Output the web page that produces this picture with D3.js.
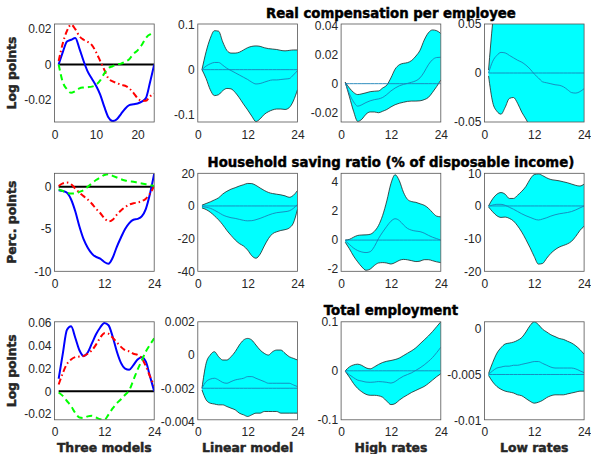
<!DOCTYPE html>
<html>
<head>
<meta charset="utf-8">
<script src="https://cdn.jsdelivr.net/npm/d3@7"></script>
<style>
  body { margin: 0; background: #fff; }
  text { font-family: "Liberation Sans", Arial, sans-serif; }
</style>
</head>
<body>
<svg id="fig" width="591" height="454"></svg>
<script>
// horizon (quarters after the shock)
var horizon = [1,2,3,4,5,6,7,8,9,10,11,12,13,14,15,16,17,18,19,20,21,22,23,24];

var rowTitles = ["Real compensation per employee", "Household saving ratio (% of disposable income)", "Total employment"];
var rowUnits = ["Log points", "Perc. points", "Log points"];
var colNames = ["Three models", "Linear model", "High rates", "Low rates"];

// ---- row 1: real compensation per employee ----
var wageModelA = [0,0.007,0.013,0.014,0.015,0.009,0.002,-0.004,-0.008,-0.012,-0.017,-0.024,-0.030,-0.032,-0.031,-0.028,-0.025,-0.023,-0.0225,-0.022,-0.021,-0.019,-0.010,0];
var wageModelB = [0.002,0.012,0.019,0.0225,0.020,0.016,0.014,0.0128,0.011,0.007,0.002,-0.003,-0.008,-0.0095,-0.0105,-0.0115,-0.012,-0.0135,-0.016,-0.019,-0.0205,-0.0205,-0.018,-0.0165];
var wageModelC = [0,-0.010,-0.014,-0.016,-0.015,-0.0135,-0.013,-0.0128,-0.0125,-0.0115,-0.009,-0.005,-0.002,-0.001,0,0.0005,0.0015,0.003,0.006,0.008,0.011,0.015,0.017,0.0175];
var wageLinLo  = [0,-0.02,-0.045,-0.058,-0.056,-0.047,-0.042,-0.043,-0.051,-0.063,-0.077,-0.09,-0.104,-0.116,-0.11,-0.1,-0.094,-0.09,-0.088,-0.088,-0.089,-0.085,-0.07,-0.045];
var wageLinMid = [0,0.008,0.013,0.016,0.016,0.01,0.003,-0.002,-0.007,-0.012,-0.017,-0.022,-0.028,-0.032,-0.031,-0.028,-0.025,-0.023,-0.023,-0.022,-0.021,-0.02,-0.012,-0.002];
var wageLinHi  = [0,0.04,0.07,0.087,0.086,0.062,0.043,0.037,0.037,0.039,0.044,0.049,0.052,0.053,0.052,0.049,0.047,0.046,0.045,0.043,0.042,0.043,0.044,0.044];
var wageHighLo  = [0.001,-0.009,-0.019,-0.026,-0.0245,-0.021,-0.0195,-0.0195,-0.02,-0.019,-0.0178,-0.016,-0.0145,-0.0135,-0.0128,-0.0122,-0.012,-0.012,-0.0118,-0.011,-0.0095,-0.006,-0.002,0.0025];
var wageHighMid = [0.0005,-0.007,-0.0125,-0.0155,-0.0145,-0.013,-0.0118,-0.011,-0.0105,-0.0095,-0.0075,-0.005,-0.003,-0.0015,-0.0005,0.0002,0.001,0.002,0.004,0.008,0.013,0.0165,0.018,0.0182];
var wageHighHi  = [0.001,-0.003,-0.006,-0.0075,-0.007,-0.0063,-0.0055,-0.0052,-0.005,-0.003,-0.001,0.004,0.010,0.013,0.014,0.0145,0.016,0.019,0.023,0.030,0.035,0.037,0.0365,0.0345];
var wageLowLo  = [-0.003,-0.03,-0.039,-0.042,-0.035,-0.026,-0.025,-0.031,-0.04,-0.047,-0.055,-0.062,-0.068,-0.072,-0.074,-0.075,-0.076,-0.078,-0.08,-0.082,-0.083,-0.083,-0.082,-0.08];
var wageLowMid = [0,0.012,0.018,0.021,0.0205,0.018,0.0155,0.013,0.011,0.008,0.004,-0.001,-0.005,-0.009,-0.010,-0.011,-0.012,-0.0125,-0.014,-0.017,-0.020,-0.0205,-0.019,-0.016];
var wageLowHi  = [0.003,0.052,0.09,0.11,0.12,0.118,0.114,0.11,0.106,0.102,0.099,0.097,0.096,0.095,0.094,0.093,0.092,0.091,0.09,0.089,0.088,0.087,0.086,0.085];

// ---- row 2: household saving ratio ----
var saveModelA = [-0.4,-0.5,-0.7,-1.5,-2.9,-4.7,-6.2,-7.2,-7.9,-8.3,-8.5,-8.9,-9.1,-8.4,-7.1,-6.0,-5.0,-4.3,-3.9,-3.8,-3.5,-2.6,-0.8,1.55];
var saveModelB = [0.1,0.4,0.5,0.3,-0.2,-0.7,-1.1,-1.5,-2.0,-2.6,-3.1,-3.7,-4.1,-3.9,-3.3,-2.8,-2.4,-2.1,-1.95,-1.85,-1.7,-1.4,-0.8,0.1];
var saveModelC = [-0.3,-0.5,-0.7,-0.8,-0.8,-0.6,-0.4,0,0.4,0.8,1.1,1.4,1.5,1.3,1.1,0.9,0.75,0.65,0.6,0.5,0.4,0.3,0.2,0.1];
var saveLinLo  = [-1.2,-2.2,-3.8,-6,-8.5,-11.5,-15,-18,-20.8,-23,-24.5,-27,-30.5,-32,-29.5,-24.5,-20,-17,-15.8,-15,-14.5,-13.5,-10.5,-2];
var saveLinMid = [-0.3,-0.8,-1.4,-2.6,-4,-5.5,-6.5,-7.2,-7.6,-8.2,-8.8,-9.1,-9,-8.4,-7.6,-6.6,-5.6,-4.7,-4.1,-3.8,-3.5,-3,-1.5,1];
var saveLinHi  = [0.5,1.5,2.5,3.7,5,7.3,9,10.3,11.2,12.2,13,13.8,13.7,12.6,11,9.5,8.3,7.6,7.2,6.8,6.2,5.3,6.5,9.5];
var saveHighLo  = [-0.15,-0.6,-1.1,-1.5,-1.85,-2.08,-2.0,-1.75,-1.58,-1.55,-1.58,-1.65,-1.55,-1.4,-1.33,-1.36,-1.42,-1.48,-1.45,-1.35,-1.35,-1.42,-1.5,-1.55];
var saveHighMid = [-0.05,-0.3,-0.55,-0.72,-0.82,-0.86,-0.8,-0.45,0.1,0.55,0.95,1.3,1.47,1.35,1.05,0.8,0.68,0.62,0.58,0.48,0.33,0.2,0.1,0];
var saveHighHi  = [0,0.05,0.2,0.32,0.35,0.36,0.4,0.6,1.0,1.7,2.7,3.9,4.5,4.1,3.3,2.8,2.65,2.6,2.5,2.4,2.2,1.9,1.65,1.6];
var saveLowLo  = [-0.3,-1.8,-3.0,-3.5,-3.4,-3.8,-4.6,-6.1,-8.0,-10.3,-12.8,-15.5,-17.8,-17.6,-16,-14.5,-13.4,-12.6,-12.1,-11.6,-10.8,-9.3,-7.5,-6.2];
var saveLowMid = [-0.1,0.3,0.5,0.5,0.2,-0.4,-1.0,-1.7,-2.4,-3.0,-3.5,-4.0,-4.3,-4.0,-3.6,-3.1,-2.7,-2.4,-2.2,-2.0,-1.7,-1.2,-0.6,0];
var saveLowHi  = [0,2.2,3.6,4.1,3.6,2.3,2.3,3.3,4.5,6,8.2,9.6,9.8,9.3,8.6,8.1,7.9,7.7,7.4,7.1,6.7,6.3,6.1,6.7];

// ---- row 3: total employment ----
var empModelA = [0.011,0.033,0.054,0.057,0.047,0.036,0.031,0.034,0.042,0.050,0.056,0.060,0.058,0.048,0.035,0.025,0.020,0.019,0.023,0.028,0.030,0.026,0.013,0.0];
var empModelB = [0.006,0.016,0.024,0.028,0.030,0.0305,0.031,0.033,0.036,0.041,0.047,0.051,0.0505,0.047,0.043,0.039,0.036,0.035,0.033,0.032,0.029,0.022,0.013,0.005];
var empModelC = [-0.001,-0.004,-0.0085,-0.013,-0.019,-0.023,-0.0235,-0.022,-0.0215,-0.023,-0.0245,-0.025,-0.0205,-0.015,-0.0105,-0.007,-0.003,0.001,0.010,0.019,0.027,0.035,0.041,0.0465];
var empLinLo  = [-0.0021,-0.0027,-0.0029,-0.00295,-0.003,-0.003,-0.0031,-0.0032,-0.0033,-0.0035,-0.0036,-0.0037,-0.0036,-0.0035,-0.0035,-0.0034,-0.0034,-0.0034,-0.0034,-0.0035,-0.0035,-0.0035,-0.0035,-0.0035];
var empLinMid = [-0.002,-0.0016,-0.00145,-0.0014,-0.0015,-0.00165,-0.0017,-0.0016,-0.0015,-0.00145,-0.0014,-0.0013,-0.0013,-0.0014,-0.0015,-0.0016,-0.0017,-0.0017,-0.0017,-0.0017,-0.0017,-0.0017,-0.0018,-0.0019];
var empLinHi  = [-0.002,-0.0005,0.0,0.0002,-0.0001,-0.0003,-0.0003,-0.0001,0.0002,0.0006,0.0009,0.001,0.0009,0.0006,0.0003,0.0001,0.0,0.0002,0.0003,0.0003,0.0001,-0.0001,-0.0002,-0.0003];
var empHighLo  = [-0.001,-0.013,-0.026,-0.036,-0.043,-0.048,-0.05,-0.05,-0.051,-0.054,-0.062,-0.069,-0.067,-0.06,-0.054,-0.049,-0.044,-0.04,-0.036,-0.032,-0.026,-0.019,-0.012,-0.006];
var empHighMid = [-0.001,-0.008,-0.014,-0.019,-0.021,-0.023,-0.0235,-0.023,-0.022,-0.0225,-0.0235,-0.025,-0.022,-0.016,-0.011,-0.0075,-0.004,0.001,0.006,0.012,0.019,0.027,0.037,0.048];
var empHighHi  = [0,0.008,0.012,0.0135,0.011,0.006,0.004,0.008,0.013,0.017,0.0195,0.021,0.023,0.026,0.031,0.036,0.041,0.047,0.055,0.063,0.071,0.08,0.09,0.1];
var empLowLo  = [-0.0051,-0.0058,-0.0063,-0.0066,-0.0068,-0.0069,-0.007,-0.0072,-0.0073,-0.0076,-0.0079,-0.0081,-0.008,-0.0078,-0.0075,-0.0073,-0.0072,-0.0072,-0.0072,-0.0071,-0.007,-0.0069,-0.0068,-0.0068];
var empLowMid = [-0.005,-0.0046,-0.0043,-0.0042,-0.0041,-0.0041,-0.004,-0.004,-0.0039,-0.0038,-0.0037,-0.0036,-0.0036,-0.0038,-0.004,-0.0042,-0.0043,-0.0043,-0.0043,-0.0043,-0.0043,-0.0044,-0.0046,-0.0048];
var empLowHi  = [-0.0049,-0.0037,-0.0027,-0.0021,-0.0017,-0.0016,-0.0015,-0.0013,-0.0010,-0.0004,0.0003,0.0007,0.0004,-0.0001,-0.0004,-0.0007,-0.0009,-0.0011,-0.0012,-0.0014,-0.0016,-0.0019,-0.0023,-0.0028];

// axis limits, tick labels and reference levels per panel
var yLimits = [
  [[-0.0325, 0.0229], [-0.117, 0.102], [-0.0264, 0.0411], [-0.05, 0.05]],
  [[-10, 1.6], [-40, 20], [-2.15, 4.6], [-20, 10]],
  [[-0.025, 0.061], [-0.0039, 0.002], [-0.1, 0.1], [-0.0099, 0.0007]]
];
var yTicks = [
  [[-0.02, 0, 0.02], [-0.1, 0, 0.1], [-0.02, 0, 0.02, 0.04], [-0.05, 0, 0.05]],
  [[-10, -5, 0], [-40, -20, 0, 20], [-2, 0, 2, 4], [-20, -10, 0, 10]],
  [[-0.02, 0, 0.02, 0.04, 0.06], [-0.004, -0.002, 0, 0.002], [-0.1, 0, 0.1], [-0.01, -0.005, 0]]
];
var refLevels = [[0, 0, 0, 0], [0, 0, 0, 0], [0, -0.002, 0, -0.005]];
var xTicksFirst = [0, 10, 20];
var xTicksOther = [0, 12, 24];

var models = [
  [wageModelA, wageModelB, wageModelC],
  [saveModelA, saveModelB, saveModelC],
  [empModelA, empModelB, empModelC]
];
var bands = [
  [[wageLinLo, wageLinMid, wageLinHi], [wageHighLo, wageHighMid, wageHighHi], [wageLowLo, wageLowMid, wageLowHi]],
  [[saveLinLo, saveLinMid, saveLinHi], [saveHighLo, saveHighMid, saveHighHi], [saveLowLo, saveLowMid, saveLowHi]],
  [[empLinLo, empLinMid, empLinHi], [empHighLo, empHighMid, empHighHi], [empLowLo, empLowMid, empLowHi]]
];

var modelStyles = [
  { color: "#0000ff", dash: null },
  { color: "#ff0000", dash: "6,3,1.5,3" },
  { color: "#00ff00", dash: "6,4" }
];

var colLeft = [54.5, 197.8, 341.1, 484.4];
var rowTop = [24, 173.3, 321.8];
var boxW = 99.7, boxH = 98;

var svg = d3.select("#fig");
var fmt = function(d){ return String(d); };

function drawPanel(row, col){
  var g = svg.append("g")
    .attr("transform", "translate(" + colLeft[col] + "," + rowTop[row] + ")");
  var x = d3.scaleLinear().domain([0, 24]).range([0, boxW]);
  var y = d3.scaleLinear().domain(yLimits[row][col]).range([boxH, 0]);

  var clipId = "clip-" + row + "-" + col;
  g.append("clipPath").attr("id", clipId)
    .append("rect").attr("width", boxW).attr("height", boxH);
  var plot = g.append("g").attr("clip-path", "url(#" + clipId + ")");

  var line = d3.line()
    .x(function(d, i){ return x(horizon[i]); })
    .y(function(d){ return y(d); })
    .curve(d3.curveMonotoneX);
  var ref = refLevels[row][col];

  if(col === 0){
    plot.append("path")
      .attr("d", line(horizon.map(function(){ return ref; })))
      .attr("fill", "none").attr("stroke", "#000").attr("stroke-width", 2);
    models[row].forEach(function(series, k){
      plot.append("path")
        .attr("d", line(series))
        .attr("fill", "none")
        .attr("stroke", modelStyles[k].color)
        .attr("stroke-width", 2)
        .attr("stroke-dasharray", modelStyles[k].dash);
    });
  } else {
    var b = bands[row][col - 1];
    var area = d3.area()
      .x(function(d, i){ return x(horizon[i]); })
      .y0(function(d, i){ return y(b[0][i]); })
      .y1(function(d, i){ return y(b[2][i]); })
      .curve(d3.curveMonotoneX);
    plot.append("path").attr("d", area(horizon)).attr("fill", "#00ffff");
    plot.append("path").attr("d", line(b[0]))
      .attr("fill", "none").attr("stroke", "#222").attr("stroke-width", 0.8);
    plot.append("path").attr("d", line(b[2]))
      .attr("fill", "none").attr("stroke", "#222").attr("stroke-width", 0.8);
    plot.append("path")
      .attr("d", line(horizon.map(function(){ return ref; })))
      .attr("fill", "none").attr("stroke", "#1a82b8").attr("stroke-width", 0.9);
    plot.append("path").attr("d", line(b[1]))
      .attr("fill", "none").attr("stroke", "#1a82b8").attr("stroke-width", 0.9);
  }

  // axes
  var yAxis = g.append("g")
    .call(d3.axisLeft(y).tickValues(yTicks[row][col]).tickSize(0).tickPadding(3).tickFormat(fmt));
  var xAxis = g.append("g").attr("transform", "translate(0," + boxH + ")")
    .call(d3.axisBottom(x).tickValues(row === 0 && col === 0 ? xTicksFirst : xTicksOther)
      .tickSize(0).tickPadding(8).tickFormat(fmt));
  [yAxis, xAxis].forEach(function(a){
    a.select(".domain").remove();
    a.selectAll("text").attr("font-size", 12).attr("fill", "#262626")
      .style("font-family", "'Liberation Sans', Arial, sans-serif");
  });

  g.append("rect").attr("width", boxW).attr("height", boxH)
    .attr("fill", "none").attr("stroke", "#555").attr("stroke-width", 0.8);
}

for(var r = 0; r < 3; r++){
  for(var c = 0; c < 4; c++){
    drawPanel(r, c);
  }
}

// bold labels are heavier in the original, so give them a thin outline
function heavy(sel, size, colour){
  sel.attr("text-anchor", "middle")
    .style("font-family", "'DejaVu Sans', sans-serif")
    .attr("font-weight", "bold").attr("font-size", size)
    .attr("fill", colour).attr("stroke", colour).attr("stroke-width", 0.45);
}

// row titles centred over the third column
rowTitles.forEach(function(t, r){
  svg.append("text")
    .attr("x", colLeft[2] + boxW / 2).attr("y", rowTop[r] - 6.5)
    .call(heavy, 13.3, "#000")
    .text(t);
});

// y labels
rowUnits.forEach(function(t, r){
  svg.append("text")
    .attr("transform", "translate(16," + (rowTop[r] + boxH / 2) + ") rotate(-90)")
    .call(heavy, 12.3, "#262626")
    .text(t);
});

// x labels
colNames.forEach(function(t, c){
  svg.append("text")
    .attr("x", colLeft[c] + boxW / 2).attr("y", 452)
    .call(heavy, 12.4, "#262626")
    .text(t);
});
</script>
</body>
</html>
